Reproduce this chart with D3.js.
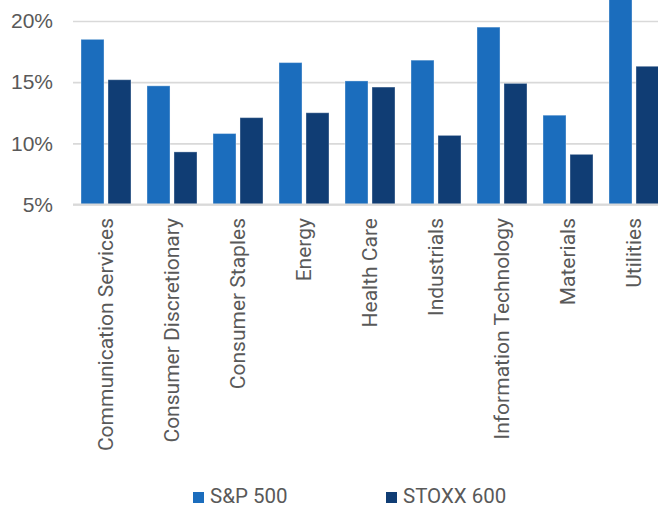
<!DOCTYPE html>
<html>
<head>
<meta charset="utf-8">
<script src="https://cdn.jsdelivr.net/npm/d3@7"></script>
<style>
  body { margin: 0; background: #fff; }
  svg { display: block; font-family: Roboto, sans-serif; }
</style>
</head>
<body>
<div id="chart"></div>
<script>
// data
var categories = ["Communication Services", "Consumer Discretionary", "Consumer Staples", "Energy",
  "Health Care", "Industrials", "Information Technology", "Materials", "Utilities"];
var seriesNames = ["S&P 500", "STOXX 600"];
var sp500 = [18.5, 14.7, 10.8, 16.6, 15.1, 16.8, 19.5, 12.3, 23.0];
var stoxx600 = [15.2, 9.3, 12.1, 12.5, 14.6, 10.65, 14.9, 9.1, 16.3];
var yTicks = [5, 10, 15, 20];
var colors = ["#1b6dbd", "#103d74"];

var W = 658, H = 508;
var svg = d3.select("#chart").append("svg").attr("width", W).attr("height", H);

// plot area runs past the right edge, like the original crop
var x0 = d3.scaleBand().domain(categories).range([73, 667]).padding(0);
var x1 = d3.scaleBand().domain(seriesNames).range([8, 58]).paddingInner(0.148).paddingOuter(0);
var y = d3.scaleLinear().domain([5, 20]).range([204.5, 21]);

// gridlines + tick labels
var yAxis = d3.axisLeft(y).tickValues(yTicks).tickSize(-(W - 73)).tickFormat(function(d){ return d + "%"; });
var ga = svg.append("g").attr("transform", "translate(73,0)").call(yAxis);
ga.select(".domain").remove();
ga.selectAll(".tick line").attr("stroke", "#d9d9d9").attr("stroke-width", 1.6);
ga.selectAll(".tick text").attr("x", -20).attr("fill", "#595959").style("font-size", "21px");

var rows = categories.map(function(c, i){ return { cat: c, vals: [sp500[i], stoxx600[i]] }; });

var groups = svg.selectAll("g.cat").data(rows).enter().append("g")
  .attr("class", "cat")
  .attr("transform", function(d){ return "translate(" + x0(d.cat) + ",0)"; });

groups.selectAll("rect").data(function(d){
    return d.vals.map(function(v, k){ return { name: seriesNames[k], v: v, k: k }; });
  }).enter().append("rect")
  .attr("x", function(d){ return x1(d.name); })
  .attr("y", function(d){ return y(d.v); })
  .attr("width", x1.bandwidth())
  .attr("height", function(d){ return y(5) - y(d.v); })
  .attr("fill", function(d){ return colors[d.k]; })
  .attr("stroke", "rgba(255,255,255,0.35)")
  .attr("stroke-width", 1);

// baseline
svg.append("line").attr("x1", 73).attr("x2", W).attr("y1", y(5)).attr("y2", y(5))
  .attr("stroke", "#d9d9d9").attr("stroke-width", 1.8);

// category labels, rotated
svg.selectAll("text.cat").data(categories).enter().append("text")
  .attr("class", "cat")
  .attr("transform", function(d){ return "translate(" + (x0(d) + x0.bandwidth() / 2) + ",218) rotate(-90)"; })
  .attr("text-anchor", "end")
  .attr("dy", "0.35em")
  .attr("fill", "#595959")
  .style("font-size", "21px")
  .text(function(d){ return d; });

// legend
var legX = [193, 386];
var leg = svg.selectAll("g.leg").data(seriesNames).enter().append("g")
  .attr("class", "leg")
  .attr("transform", function(d, i){ return "translate(" + legX[i] + ",492)"; });
leg.append("rect").attr("width", 11).attr("height", 11).attr("fill", function(d, i){ return colors[i]; });
leg.append("text").attr("x", 17).attr("y", 11).attr("fill", "#595959")
  .style("font-size", "20.5px").text(function(d){ return d; });
</script>
</body>
</html>
